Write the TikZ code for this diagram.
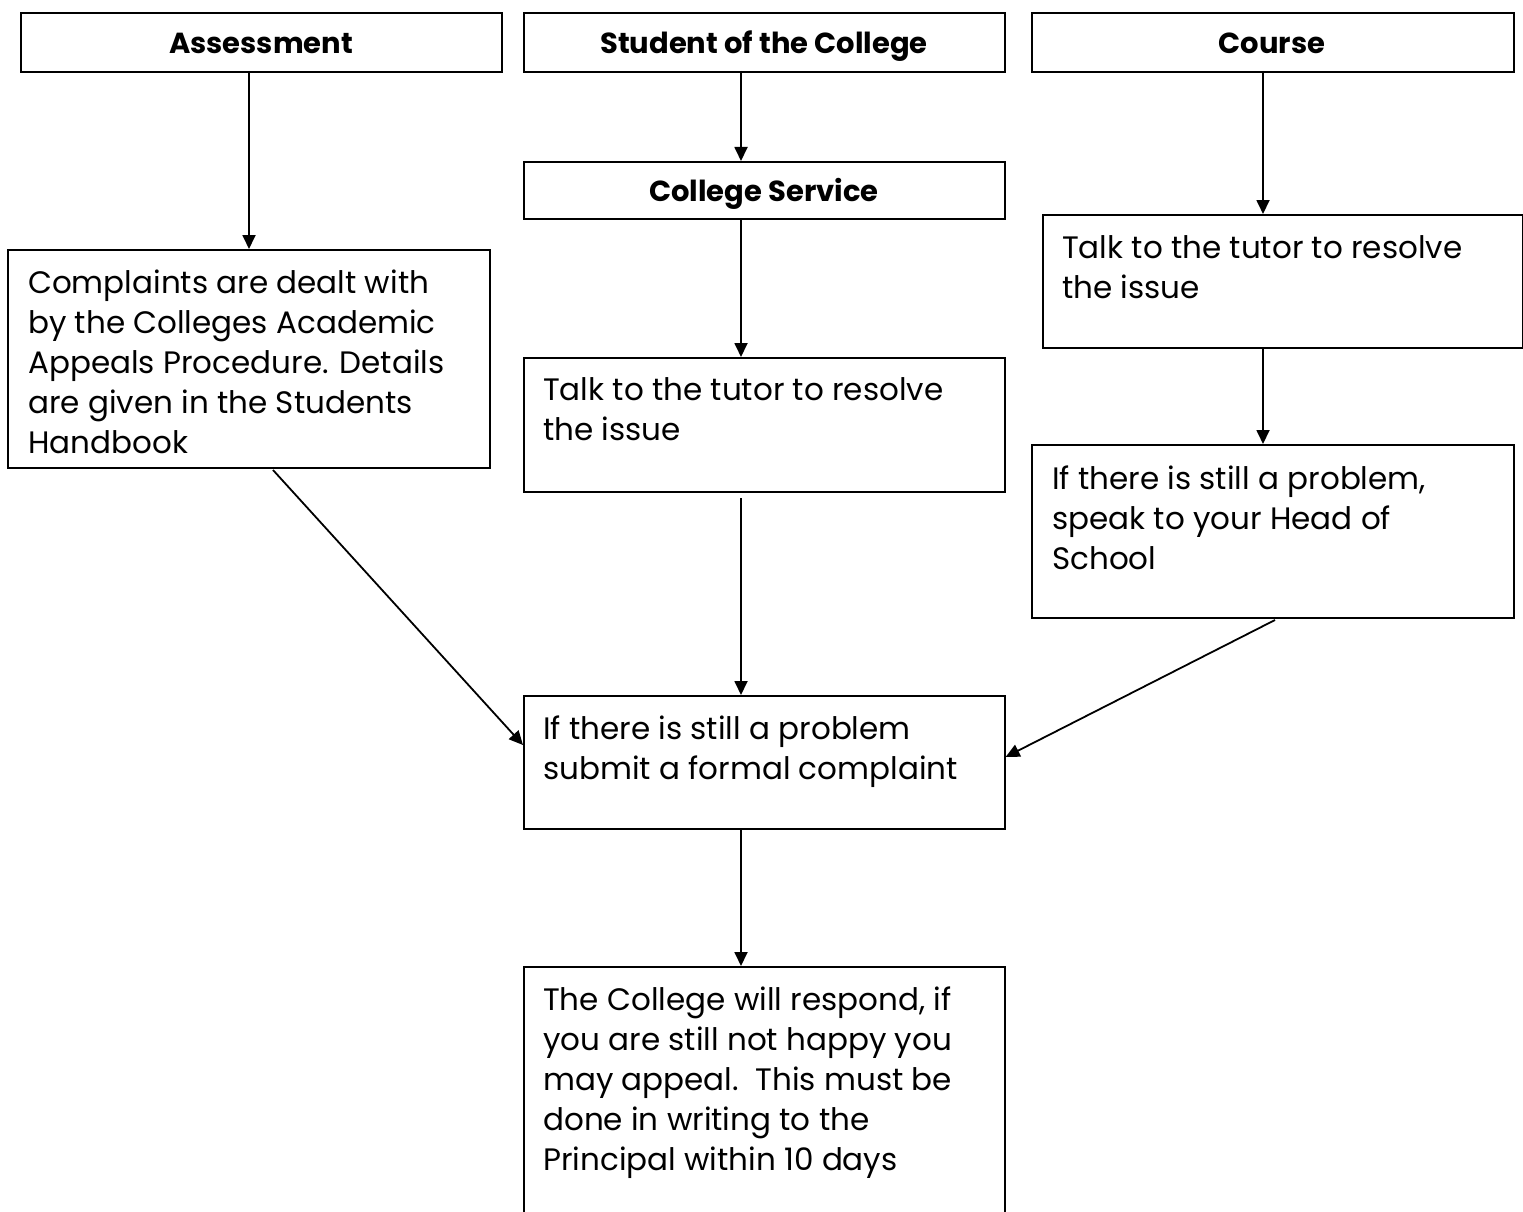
\documentclass[tikz,border=0pt]{standalone}
\usepackage{fontspec}
\setmainfont{Poppins}
\usetikzlibrary{arrows.meta}
\begin{document}
\begin{tikzpicture}[x=1pt,y=-1pt,
  box/.style={draw,line width=1.6pt,rectangle,anchor=north west,inner sep=0pt},
  head/.style={font=\fontsize{29}{40}\selectfont\bfseries,anchor=base,inner sep=0pt},
  body/.style={font=\fontsize{31}{40}\selectfont,anchor=base west,align=left,inner sep=0pt},
  arr/.style={line width=1.8pt,-{Triangle[length=14pt,width=13pt]}}]
\useasboundingbox (0,0) rectangle (1523,1212);
% boxes
\node[box,minimum width=481pt,minimum height=59pt] (assess) at (20,12) {};
\node[box,minimum width=481pt,minimum height=59pt] (student) at (523,12) {};
\node[box,minimum width=482pt,minimum height=59pt] (course) at (1031,12) {};
\node[box,minimum width=481pt,minimum height=57pt] (service) at (523,161) {};
\node[box,minimum width=482pt,minimum height=218pt] (complaints) at (7,249) {};
\node[box,minimum width=481pt,minimum height=134pt] (talkm) at (523,357) {};
\node[box,minimum width=480pt,minimum height=133pt] (talkr) at (1042,214) {};
\node[box,minimum width=482pt,minimum height=173pt] (headsch) at (1031,444) {};
\node[box,minimum width=481pt,minimum height=133pt] (still) at (523,695) {};
\node[box,minimum width=481pt,minimum height=260pt] (respond) at (523,966) {};
% headings
\node[head] (assess-t) at (261,54) {Assessment};
\node[head] (student-t) at (764,54) {Student of the College};
\node[head] (course-t) at (1272,54) {Course};
\node[head] (service-t) at (764,201) {College Service};
% body texts (anchored at the baseline of the last line)
\node[body] (complaints-t) at (28,453) {Complaints are dealt with\\by the Colleges Academic\\Appeals Procedure. Details\\are given in the Students\\Handbook};
\node[body] (talkm-t) at (543,440) {Talk to the tutor to resolve\\the issue};
\node[body] (talkr-t) at (1062,298) {Talk to the tutor to resolve\\the issue};
\node[body] (headsch-t) at (1052,569) {If there is still a problem,\\speak to your Head of\\School};
\node[body] (still-t) at (543,779) {If there is still a problem\\submit a formal complaint};
\node[body] (respond-t) at (543,1170) {The College will respond, if\\you are still not happy you\\may appeal.\ \ This must be\\done in writing to the\\Principal within 10 days};
% connectors
\coordinate (a1) at (249,71);
\draw[arr] (a1) -- (a1 |- complaints.north);
\coordinate (s1) at (741,71);
\draw[arr] (s1) -- (s1 |- service.north);
\coordinate (s2) at (741,218);
\draw[arr] (s2) -- (s2 |- talkm.north);
\coordinate (c1) at (1263,71);
\draw[arr] (c1) -- (c1 |- talkr.north);
\coordinate (c2) at (1263,347);
\draw[arr] (c2) -- (c2 |- headsch.north);
\coordinate (d1) at (273,470);
\draw[arr] (d1) -- (still.west |- 0,745);
\coordinate (m1) at (741,498);
\draw[arr] (m1) -- (m1 |- still.north);
\coordinate (h1) at (1275,620);
\draw[arr] (h1) -- (still.east |- 0,757);
\coordinate (r1) at (741,828);
\draw[arr] (r1) -- (r1 |- respond.north);
\end{tikzpicture}
\end{document}
